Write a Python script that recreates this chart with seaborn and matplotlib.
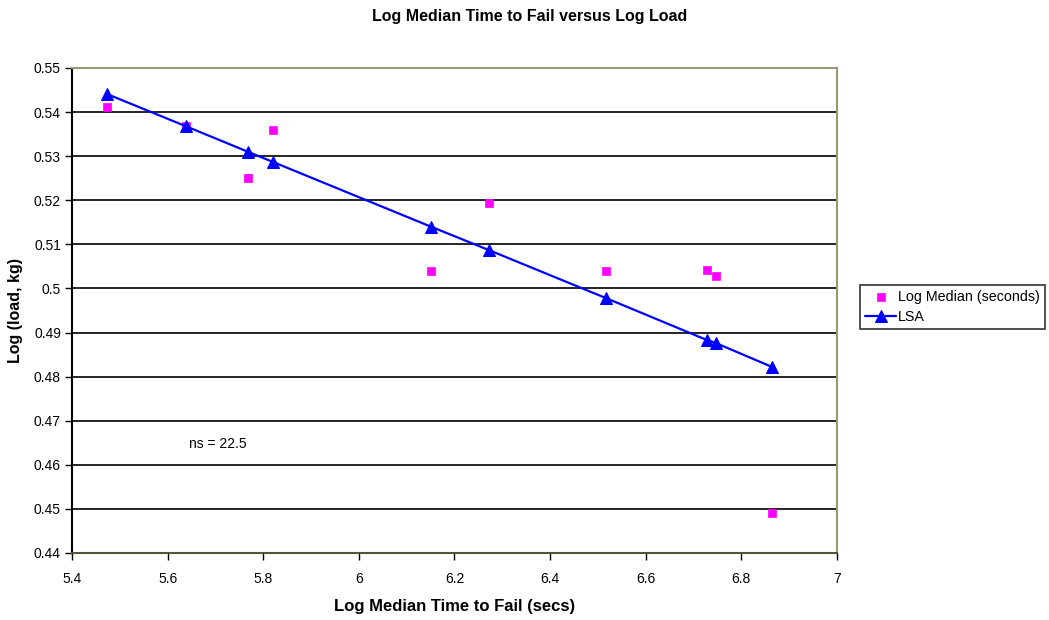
import matplotlib
matplotlib.use("Agg")
import matplotlib.pyplot as plt
import seaborn as sns
import pandas as pd

log_time = [5.473, 5.638, 5.768, 5.820, 6.151, 6.272, 6.517, 6.728, 6.747, 6.864]
log_median = [0.5412, 0.5368, 0.5251, 0.5359, 0.5040, 0.5194, 0.5040, 0.5042, 0.5028, 0.4491]
lsa = [0.5441, 0.5368, 0.5310, 0.5287, 0.5140, 0.5087, 0.4978, 0.4883, 0.4876, 0.4822]

x_ticks = [5.4, 5.6, 5.8, 6.0, 6.2, 6.4, 6.6, 6.8, 7.0]
x_tick_labels = ["5.4", "5.6", "5.8", "6", "6.2", "6.4", "6.6", "6.8", "7"]
y_ticks = [0.44, 0.45, 0.46, 0.47, 0.48, 0.49, 0.50, 0.51, 0.52, 0.53, 0.54, 0.55]
y_tick_labels = ["0.44", "0.45", "0.46", "0.47", "0.48", "0.49", "0.5", "0.51", "0.52", "0.53", "0.54", "0.55"]

sns.set_style("white")
plt.rcParams['font.family'] = ['Liberation Sans', 'DejaVu Sans']
plt.rcParams['text.color'] = 'black'
plt.rcParams['axes.labelcolor'] = 'black'
plt.rcParams['xtick.color'] = 'black'
plt.rcParams['ytick.color'] = 'black'

df = pd.DataFrame({"x": log_time, "median": log_median, "lsa": lsa})

fig = plt.figure(figsize=(10.49, 6.2), dpi=100)
ax = fig.add_axes([72/1049, 1-553/620, (837-72)/1049, (553-68)/620])

for yv in y_ticks[1:-1]:
    ax.axhline(yv, color='black', lw=1.2, zorder=1)

sns.lineplot(data=df, x="x", y="lsa", ax=ax, color='#0000FF', lw=1.6, marker='^',
             markersize=8, markeredgecolor='#0000FF', sort=False, label="LSA", zorder=3)
sns.scatterplot(data=df, x="x", y="median", ax=ax, color='#FF00FF', marker='s', s=28,
                edgecolor='#FF00FF', linewidth=0.5, label="Log Median (seconds)", zorder=2)

ax.set_xlim(5.4, 7.0)
ax.set_ylim(0.44, 0.55)
ax.set_xticks(x_ticks)
ax.set_xticklabels(x_tick_labels, fontsize=10)
ax.set_yticks(y_ticks)
ax.set_yticklabels(y_tick_labels, fontsize=10)
ax.tick_params(axis='both', direction='out', length=5, width=1, color='black',
               labelcolor='black', bottom=True, left=True)
ax.tick_params(axis='x', pad=9)
ax.tick_params(axis='y', pad=3)

for s in ['top', 'right']:
    ax.spines[s].set_color('#999977')
    ax.spines[s].set_linewidth(1.5)
ax.spines['left'].set_color('black')
ax.spines['left'].set_linewidth(1.5)
ax.spines['bottom'].set_color('#555533')
ax.spines['bottom'].set_linewidth(1.5)

ax.set_xlabel("Log Median Time to Fail (secs)", fontsize=12, fontweight='bold', labelpad=9,
              color='black')
ax.set_ylabel("Log (load, kg)", fontsize=11.5, fontweight='bold', labelpad=8, color='black')
fig.text(0.505, 1-17/620, "Log Median Time to Fail versus Log Load", ha='center', va='center',
         fontsize=11.5, fontweight='bold', color='black')

ax.text(5.705, 0.4648, "ns = 22.5", fontsize=10, ha='center', va='center', color='black')

handles, labels = ax.get_legend_handles_labels()
order = [labels.index("Log Median (seconds)"), labels.index("LSA")]
leg = ax.legend([handles[i] for i in order], [labels[i] for i in order],
                loc='upper left', bbox_to_anchor=(860/1049, 1-285/620),
                bbox_transform=fig.transFigure, fontsize=10.3, frameon=True,
                fancybox=False, edgecolor='black', borderpad=0.35, labelspacing=0.45,
                handlelength=2.2, handletextpad=0.1, borderaxespad=0)
leg.get_frame().set_linewidth(1.2)
for t in leg.get_texts():
    t.set_color('black')

fig.savefig("out.png", dpi=100)
